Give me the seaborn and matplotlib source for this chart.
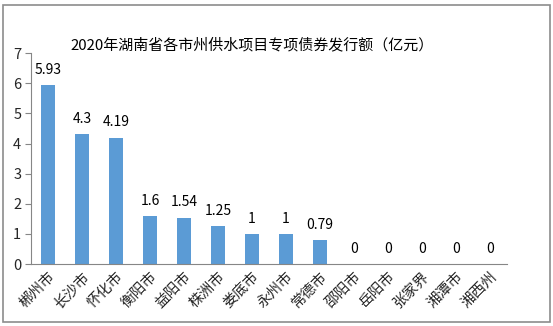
import matplotlib
matplotlib.use("Agg")
import matplotlib.pyplot as plt
import seaborn as sns
import pandas as pd
from matplotlib.patches import Rectangle

cities = ["郴州市", "长沙市", "怀化市", "衡阳市", "益阳市", "株洲市", "娄底市",
          "永州市", "常德市", "邵阳市", "岳阳市", "张家界", "湘潭市", "湘西州"]
amounts = [5.93, 4.3, 4.19, 1.6, 1.54, 1.25, 1, 1, 0.79, 0, 0, 0, 0, 0]
value_labels = ["5.93", "4.3", "4.19", "1.6", "1.54", "1.25", "1", "1", "0.79",
                "0", "0", "0", "0", "0"]

sns.set_theme(style="white")
plt.rcParams["font.family"] = ["Noto Sans CJK SC", "DejaVu Sans"]

df = pd.DataFrame({"city": cities, "amount": amounts})

fig = plt.figure(figsize=(5.53, 3.26), dpi=100)
ax = fig.add_axes([0.056, 0.190, 0.861, 0.647])

sns.barplot(data=df, x="city", y="amount", color="#5B9BD5", saturation=1,
            width=0.41, linewidth=0, ax=ax)

for i, (v, t) in enumerate(zip(amounts, value_labels)):
    ax.annotate(t, (i, v), xytext=(0, 6), textcoords="offset points",
                ha="center", va="bottom", fontsize=10, color="black")

ax.set_ylim(0, 7)
ax.set_xlim(-0.5, len(cities) - 0.5)
ax.set_yticks(range(0, 8))
ax.tick_params(axis="y", labelsize=10.5, length=4, width=0.8, color="#868686",
               left=True, pad=3)
ax.tick_params(axis="x", length=0, pad=4)
ax.set_xticks(range(len(cities)))
ax.set_xticklabels(cities, rotation=45, ha="right", rotation_mode="anchor",
                   fontsize=10.5)
ax.set_xlabel("")
ax.set_ylabel("")

for side in ["top", "right"]:
    ax.spines[side].set_visible(False)
for side in ["left", "bottom"]:
    ax.spines[side].set_color("#868686")
    ax.spines[side].set_linewidth(0.8)

fig.text(0.455, 0.862, "2020年湖南省各市州供水项目专项债券发行额（亿元）",
         ha="center", va="center", fontsize=10.8, color="black")

# outer chart frame
fig.patches.append(Rectangle((0.005, 0.012), 0.990, 0.972, transform=fig.transFigure,
                             fill=False, edgecolor="#8c8c8c", linewidth=1.2))

fig.savefig("out.png", dpi=100)
